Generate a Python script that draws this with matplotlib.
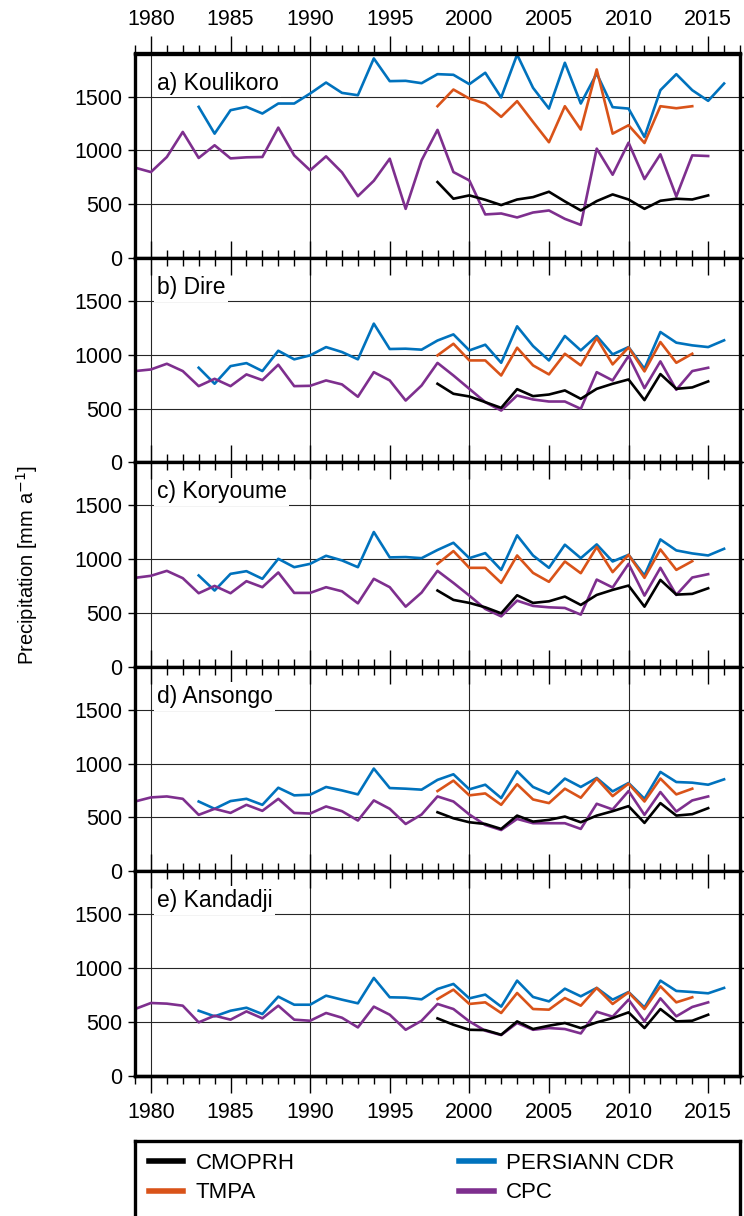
import matplotlib
matplotlib.use("Agg")
import matplotlib.pyplot as plt
from matplotlib.ticker import MultipleLocator
from matplotlib.lines import Line2D

plt.rcParams['font.family'] = ['Liberation Sans', 'DejaVu Sans']

stations = ["a) Koulikoro", "b) Dire", "c) Koryoume", "d) Ansongo", "e) Kandadji"]

years_cpc = list(range(1979, 2016))
years_persiann = list(range(1983, 2017))
years_tmpa = list(range(1998, 2015))
years_cmorph = list(range(1998, 2016))

cpc_a = [839, 798, 938, 1171, 929, 1047, 925, 935, 938, 1211,
         953, 814, 944, 795, 574, 717, 922, 456, 907, 1190,
         798, 720, 404, 413, 376, 422, 441, 363, 307, 1016,
         773, 1071, 733, 963, 571, 953, 947]
persiann_a = [1404, 1155, 1373, 1404, 1342, 1435, 1435, 1528, 1630, 1534,
              1512, 1854, 1643, 1646, 1624, 1708, 1702, 1615, 1721, 1491,
              1890, 1581, 1388, 1814, 1435, 1714, 1401, 1388, 1124, 1559,
              1708, 1559, 1460, 1621]
tmpa_a = [1410, 1565, 1481, 1435, 1311, 1457, 1264, 1075, 1410, 1193,
          1752, 1155, 1233, 1068, 1410, 1391, 1410]
cmorph_a = [705, 550, 581, 540, 491, 543, 565, 615, 525, 441,
            528, 590, 543, 456, 531, 550, 543, 581]

cpc_b = [848, 863, 916, 848, 708, 776, 708, 817, 764, 907,
         708, 711, 761, 724, 609, 838, 761, 574, 714, 924,
         807, 683, 559, 481, 621, 584, 565, 565, 497, 838,
         761, 988, 689, 938, 674, 848, 879]
persiann_b = [879, 730, 894, 922, 848, 1037, 957, 994, 1071, 1025,
              957, 1289, 1053, 1056, 1047, 1132, 1189, 1040, 1093, 925,
              1264, 1081, 947, 1174, 1040, 1174, 1003, 1071, 870, 1211,
              1112, 1087, 1071, 1134]
tmpa_b = [994, 1102, 947, 947, 807, 1065, 901, 817, 1009, 901,
          1155, 910, 1068, 845, 1118, 925, 1009]
cmorph_b = [730, 637, 612, 559, 506, 680, 615, 630, 668, 590,
            683, 730, 770, 578, 820, 683, 696, 752]

cpc_c = [826, 845, 891, 823, 683, 751, 683, 795, 739, 876,
         686, 686, 739, 701, 589, 817, 739, 558, 689, 891,
         779, 661, 537, 468, 614, 565, 552, 546, 484, 810,
         736, 956, 661, 919, 667, 829, 860]
persiann_c = [848, 708, 863, 888, 817, 1003, 925, 956, 1031, 988,
              925, 1252, 1016, 1019, 1009, 1085, 1152, 1009, 1056, 900,
              1221, 1034, 919, 1134, 1009, 1137, 978, 1040, 848, 1183,
              1081, 1053, 1034, 1096]
tmpa_c = [956, 1075, 919, 919, 779, 1034, 872, 789, 978, 869,
          1112, 879, 1040, 826, 1090, 900, 981]
cmorph_c = [708, 621, 593, 552, 496, 664, 593, 608, 652, 574,
            667, 714, 754, 558, 807, 670, 677, 729]

cpc_d = [647, 685, 694, 672, 523, 579, 541, 616, 560, 672,
         541, 535, 601, 557, 470, 657, 579, 438, 526, 694,
         647, 526, 429, 382, 485, 445, 445, 445, 392, 626,
         573, 744, 523, 735, 554, 657, 694]
persiann_d = [647, 579, 651, 672, 616, 775, 704, 710, 782, 750,
              713, 953, 772, 766, 757, 848, 900, 760, 803, 679,
              928, 782, 719, 860, 782, 866, 741, 819, 672, 922,
              828, 822, 803, 853]
tmpa_d = [744, 841, 704, 722, 616, 807, 666, 632, 766, 682,
          860, 697, 813, 647, 860, 713, 766]
cmorph_d = [547, 491, 454, 438, 392, 516, 460, 476, 507, 454,
            516, 557, 604, 448, 632, 516, 529, 585]

cpc_e = [618, 674, 668, 649, 494, 556, 519, 596, 531, 649,
         519, 509, 581, 537, 447, 640, 565, 425, 509, 665,
         618, 503, 416, 376, 488, 425, 441, 432, 391, 593,
         547, 705, 503, 717, 550, 637, 680]
persiann_e = [602, 550, 602, 630, 571, 733, 658, 658, 742, 705,
              671, 907, 727, 724, 708, 804, 851, 717, 752, 640,
              882, 730, 689, 807, 736, 814, 705, 776, 633, 882,
              786, 776, 764, 814]
tmpa_e = [711, 798, 665, 680, 581, 767, 618, 612, 720, 649,
          814, 665, 773, 618, 829, 680, 727]
cmorph_e = [531, 472, 425, 422, 379, 503, 432, 463, 488, 441,
            494, 534, 587, 441, 618, 503, 509, 565]

cpc_all = [cpc_a, cpc_b, cpc_c, cpc_d, cpc_e]
persiann_all = [persiann_a, persiann_b, persiann_c, persiann_d, persiann_e]
tmpa_all = [tmpa_a, tmpa_b, tmpa_c, tmpa_d, tmpa_e]
cmorph_all = [cmorph_a, cmorph_b, cmorph_c, cmorph_d, cmorph_e]

series_names = ["CMOPRH", "TMPA", "PERSIANN CDR", "CPC"]
ytick_vals = [0, 500, 1000, 1500]
xtick_major = [1980, 1985, 1990, 1995, 2000, 2005, 2010, 2015]
xgrid_vals = [1980, 1990, 2000, 2010]

c_black = "#000000"
c_orange = "#D95319"
c_blue = "#0072BD"
c_purple = "#7E2F8E"

W, H = 744, 1216
fig = plt.figure(figsize=(W / 100, H / 100), dpi=100)

left_px, right_px = 135, 740
top_px, bot_px = 53.5, 1075.5
n = 5
ph = (bot_px - top_px) / n
FS = 15.5
lw_data = 1.9
frame_lw = 2.4

for i in range(n):
    y_top = top_px + i * ph
    ax = fig.add_axes([left_px / W, 1 - (y_top + ph) / H, (right_px - left_px) / W, ph / H])
    ax.set_xlim(1979, 2017)
    ax.set_ylim(0, 1900)
    for g in xgrid_vals:
        ax.axvline(g, color="0.15", lw=0.8, zorder=1)
    for g in ytick_vals[1:]:
        ax.axhline(g, color="0.15", lw=0.8, zorder=1)

    ax.plot(years_persiann, persiann_all[i], color=c_blue, lw=lw_data, zorder=3)
    ax.plot(years_tmpa, tmpa_all[i], color=c_orange, lw=lw_data, zorder=3)
    ax.plot(years_cpc, cpc_all[i], color=c_purple, lw=lw_data, zorder=3)
    ax.plot(years_cmorph, cmorph_all[i], color=c_black, lw=lw_data, zorder=4)

    ax.set_yticks(ytick_vals)
    ax.set_yticklabels([str(v) for v in ytick_vals], fontsize=FS)
    ax.tick_params(axis="y", which="both", direction="out", length=5, width=1,
                   left=True, right=True, labelleft=True, labelright=False, pad=4)

    ax.set_xticks(xtick_major)
    ax.xaxis.set_minor_locator(MultipleLocator(1))
    ax.tick_params(axis="x", which="major", direction="in", length=12, width=1,
                   top=True, bottom=True, labeltop=False, labelbottom=False)
    ax.tick_params(axis="x", which="minor", direction="in", length=6, width=1,
                   top=True, bottom=True)
    if i == 0:
        sec = ax.secondary_xaxis("top")
        sec.set_xticks(xtick_major)
        sec.xaxis.set_minor_locator(MultipleLocator(1))
        sec.tick_params(axis="x", which="major", direction="out", length=12, width=1,
                        labelsize=FS, pad=5)
        sec.tick_params(axis="x", which="minor", direction="out", length=6, width=1)
        sec.spines["top"].set_linewidth(frame_lw)
        ax.tick_params(axis="x", which="both", top=False)
    if i == n - 1:
        sec = ax.secondary_xaxis("bottom")
        sec.set_xticks(xtick_major)
        sec.xaxis.set_minor_locator(MultipleLocator(1))
        sec.tick_params(axis="x", which="major", direction="out", length=12, width=1,
                        labelsize=FS, pad=7)
        sec.tick_params(axis="x", which="minor", direction="out", length=6, width=1)
        sec.spines["bottom"].set_linewidth(frame_lw)
        ax.tick_params(axis="x", which="both", bottom=False)

    for s in ax.spines.values():
        s.set_linewidth(frame_lw)
        s.set_zorder(10)

    ax.text(0.036, 0.855, stations[i], transform=ax.transAxes, fontsize=16.5,
            ha="left", va="center", zorder=5,
            bbox=dict(facecolor="white", edgecolor="none", pad=2.0))

fig.text(27 / W, 1 - ((top_px + bot_px) / 2) / H, "Precipitation [mm a$^{-1}$]",
         rotation=90, ha="center", va="center", fontsize=14.5)

# legend box
leg_top = 1141
lax = fig.add_axes([left_px / W, 1 - (H + 20) / H, (right_px - left_px) / W, (H + 20 - leg_top) / H])
lax.set_xticks([])
lax.set_yticks([])
for s in lax.spines.values():
    s.set_linewidth(frame_lw)
handles = [Line2D([], [], color=c_black, lw=4),
           Line2D([], [], color=c_orange, lw=4),
           Line2D([], [], color=c_blue, lw=4),
           Line2D([], [], color=c_purple, lw=4)]
LFS = 16
fig.legend(handles, series_names, ncol=2, loc="upper left", frameon=False,
           fontsize=LFS, bbox_to_anchor=(149 / W, 1 - 1153 / H),
           handlelength=1.55, handletextpad=0.55, labelspacing=0.38,
           borderaxespad=0.0, borderpad=0.0, columnspacing=7.4)

fig.savefig("out.png", dpi=100)
